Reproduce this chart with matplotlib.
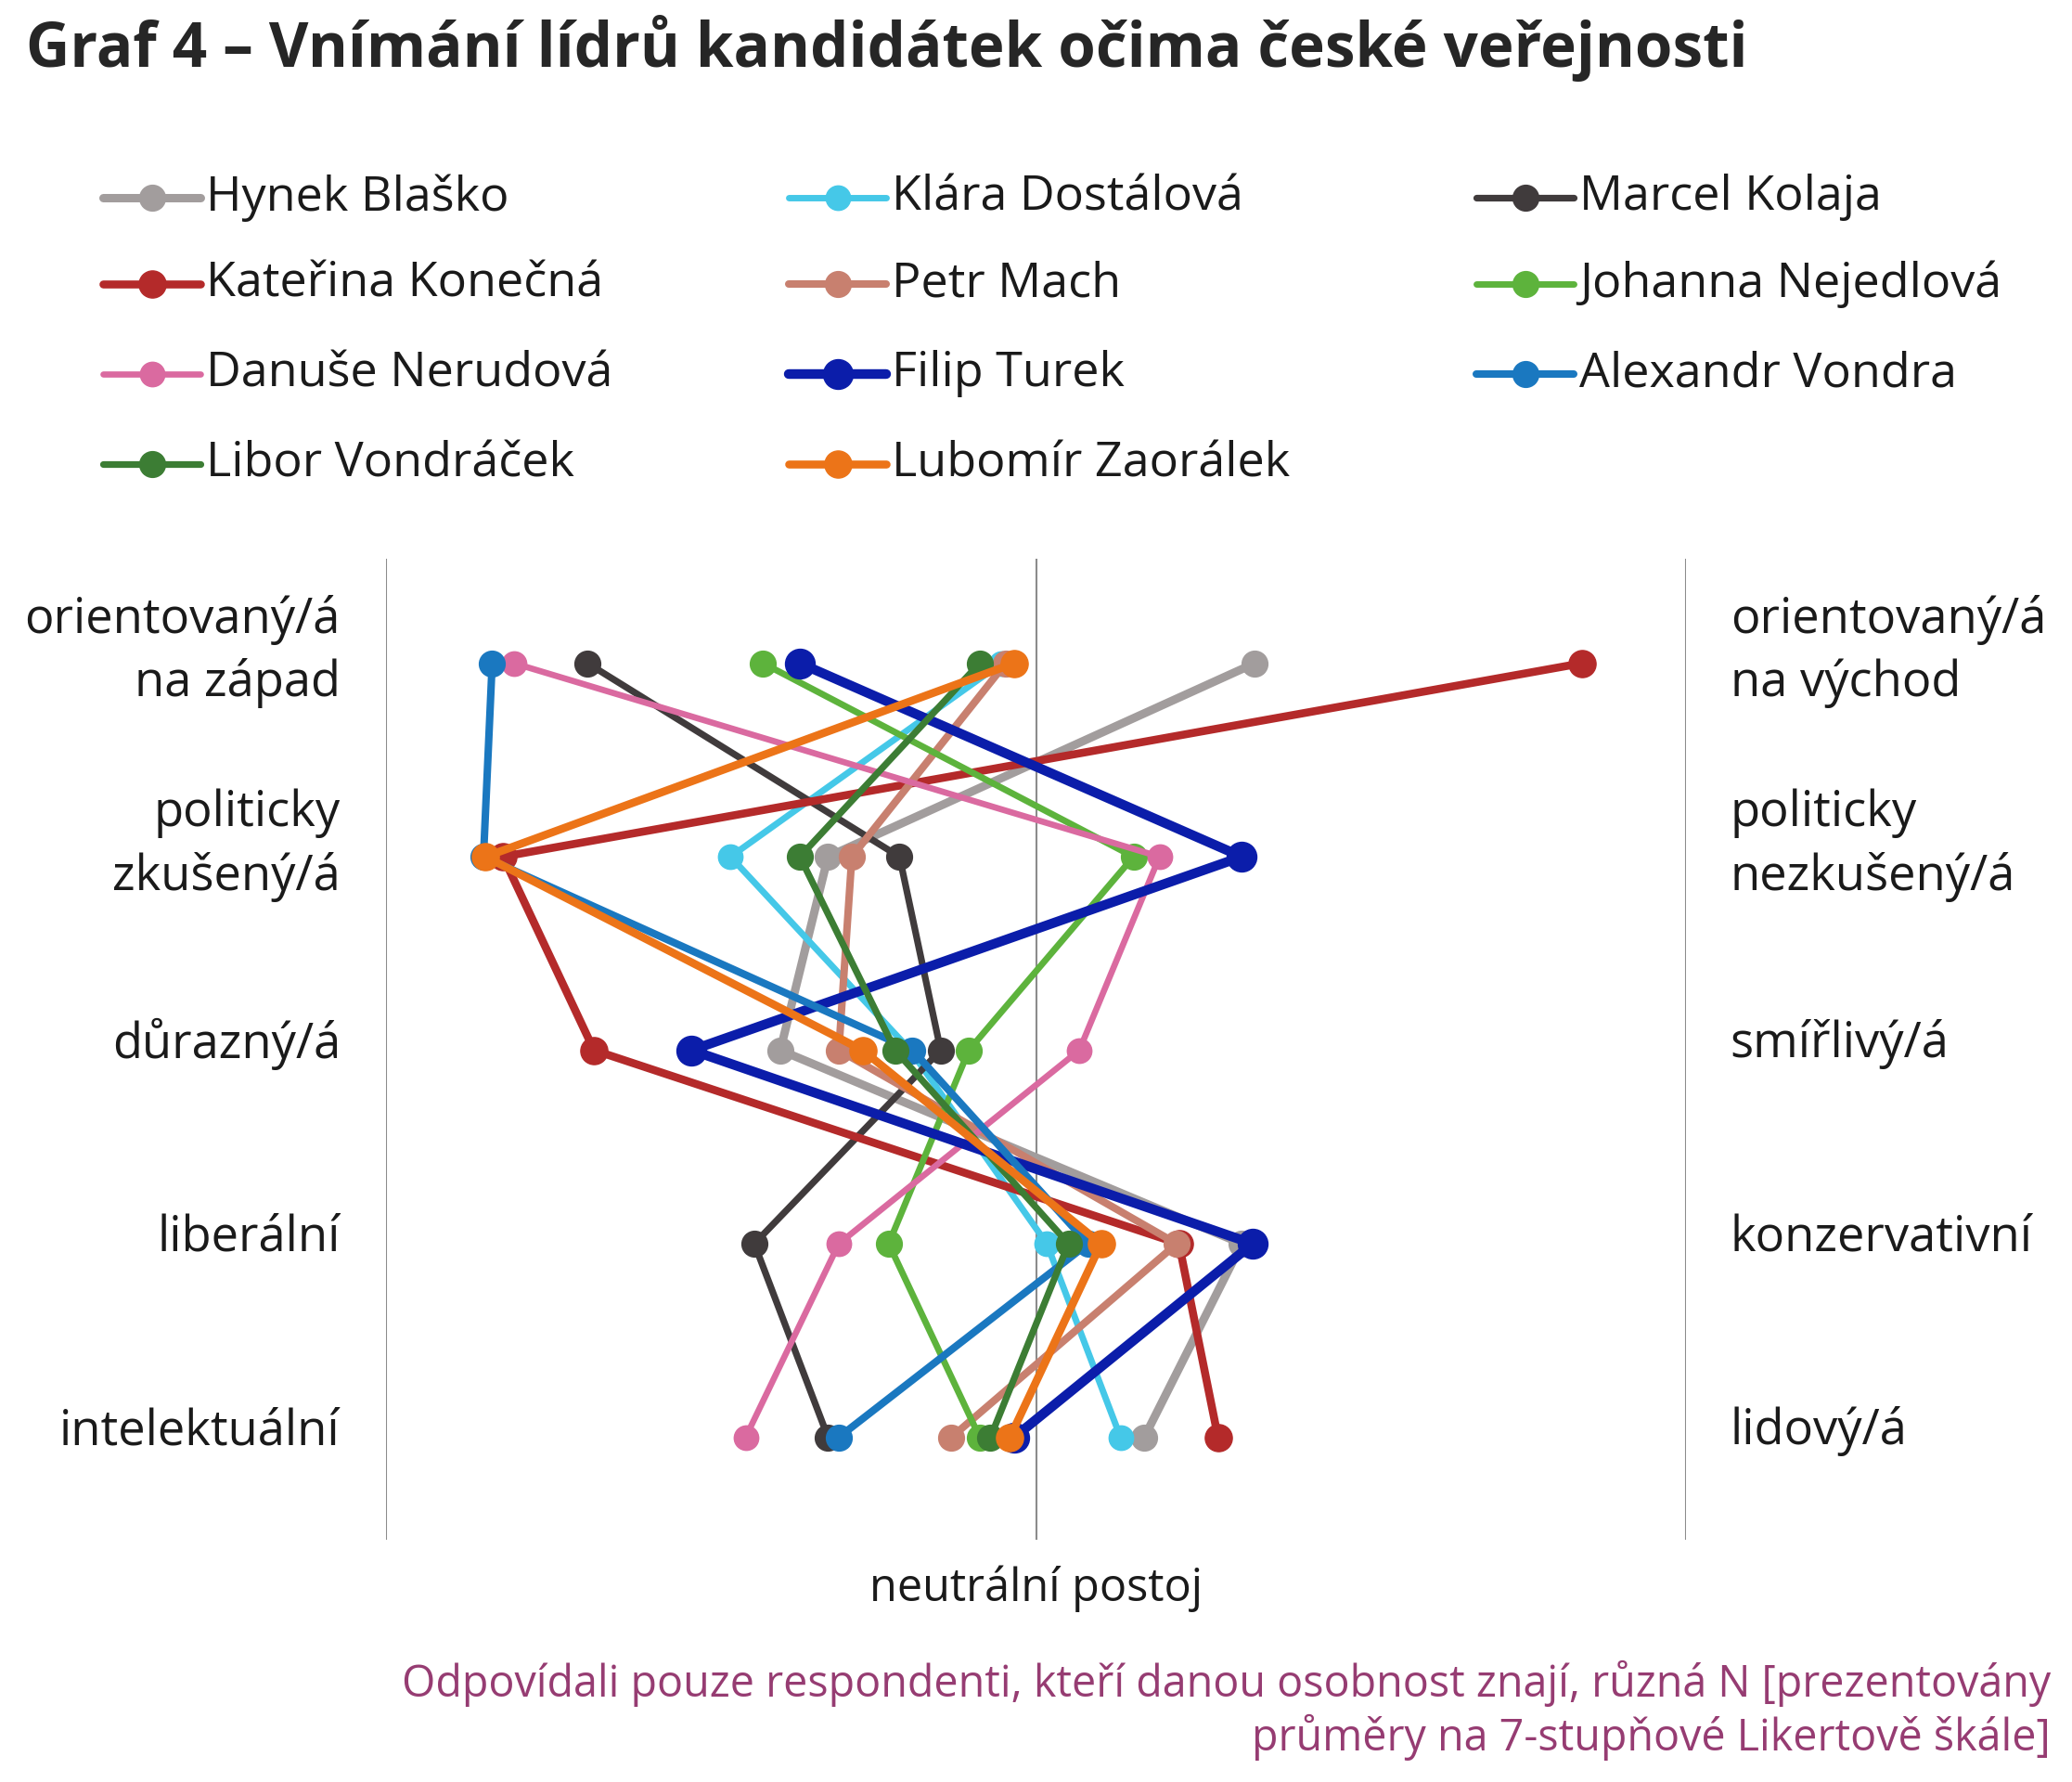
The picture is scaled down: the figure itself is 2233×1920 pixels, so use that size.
import matplotlib
matplotlib.use("Agg")
import matplotlib.pyplot as plt
from matplotlib.lines import Line2D
import matplotlib.transforms as mtransforms

plt.rcParams['font.family'] = ['Open Sans', 'DejaVu Sans']

# data (7-point Likert scale means)
names = ["Hynek Blaško", "Klára Dostálová", "Marcel Kolaja", "Kateřina Konečná",
         "Petr Mach", "Johanna Nejedlová", "Danuše Nerudová", "Filip Turek",
         "Alexandr Vondra", "Libor Vondráček", "Lubomír Zaorálek"]
left_labels = ["orientovaný/á\nna západ", "politicky\nzkušený/á", "důrazný/á",
               "liberální", "intelektuální"]
right_labels = ["orientovaný/á\nna východ", "politicky\nnezkušený/á", "smířlivý/á",
                "konzervativní", "lidový/á"]

blasko = [5.01, 3.04, 2.82, 4.95, 4.50]
dostalova = [3.84, 2.59, 3.42, 4.05, 4.39]
kolaja = [1.93, 3.37, 3.56, 2.70, 3.04]
konecna = [6.52, 1.54, 1.96, 4.66, 4.84]
mach = [3.86, 3.15, 3.09, 4.65, 3.61]
nejedlova = [2.74, 4.45, 3.69, 3.32, 3.74]
nerudova = [1.59, 4.57, 4.20, 3.09, 2.66]
turek = [2.91, 4.95, 2.41, 5.00, 3.90]
vondra = [1.49, 1.45, 3.43, 4.24, 3.09]
vondracek = [3.74, 2.91, 3.35, 4.15, 3.79]
zaoralek = [3.90, 1.46, 3.20, 4.30, 3.88]

series = [blasko, dostalova, kolaja, konecna, mach, nejedlova,
          nerudova, turek, vondra, vondracek, zaoralek]

colors = ["#A29D9D", "#45C8E8", "#403B3C", "#B42A2A", "#C8806F", "#5DB33C",
          "#DA6AA0", "#0B1DAA", "#1A78C0", "#3C7D34", "#EC7418"]
widths = [6.5, 5.0, 5.2, 6.2, 5.8, 5.0, 4.8, 7.5, 5.8, 5.2, 6.2]
msizes = [20, 19, 20, 21, 20, 20, 19, 23, 20, 20, 21]

fig = plt.figure(figsize=(22.33, 19.2), dpi=100)
ax = fig.add_axes([416 / 2233, 1 - 1659 / 1920, 1401 / 2233, 1057 / 1920])

rows = list(range(len(left_labels)))
for vals, name, c, lw, ms in zip(series, names, colors, widths, msizes):
    ax.plot(vals, rows, color=c, lw=lw, marker='o', ms=ms, label=name,
            solid_capstyle='round', zorder=3)

for xv in [1, 4, 7]:
    ax.axvline(xv, color='#8C8C8C', lw=1.5, zorder=1)

ax.set_xlim(1, 7)
ax.set_ylim(4.53, -0.54)
ax.axis('off')

tr = mtransforms.blended_transform_factory(ax.transAxes, ax.transData)
for r, (lt, rt) in enumerate(zip(left_labels, right_labels)):
    # labels sit slightly above the row, like in Excel
    off = 0.06 if "\n" in lt else 0.03
    ax.text(-0.035, r - off, lt, transform=tr, ha='right', va='center',
            multialignment='right', fontsize=37.8, color='#1a1a1a', linespacing=1.36)
    ax.text(1.034, r - off, rt, transform=tr, ha='left', va='center',
            multialignment='left', fontsize=37.8, color='#1a1a1a', linespacing=1.36)

tr2 = mtransforms.blended_transform_factory(ax.transData, ax.transAxes)
ax.text(4, -0.05, "neutrální postoj", transform=tr2, ha='center', va='center',
        fontsize=35, color='#1a1a1a')

# title
fig.text(28 / 2233, 1 - 52 / 1920, "Graf 4 – Vnímání lídrů kandidátek očima české veřejnosti",
         ha='left', va='center', fontsize=47.2, fontweight='bold', color='#262626')

# legend, 3 columns laid out like Excel
col_x = [111, 850, 1591]
row_y = [213, 306, 403, 500]
for i, (name, c, lw, ms) in enumerate(zip(names, colors, widths, msizes)):
    col = i % 3
    row = i // 3
    x0 = col_x[col] / 2233
    x1 = (col_x[col] + 105) / 2233
    y = 1 - row_y[row] / 1920
    fig.add_artist(Line2D([x0, x1], [y, y], transform=fig.transFigure,
                          color=c, lw=lw, solid_capstyle='round'))
    fig.add_artist(Line2D([(x0 + x1) / 2], [y], transform=fig.transFigure,
                          color=c, marker='o', ms=ms, lw=0))
    fig.text((col_x[col] + 111) / 2233, y, name, ha='left', va='center',
             fontsize=37.5, color='#1a1a1a')

fig.text(2210 / 2233, 1 - 1843 / 1920,
         "Odpovídali pouze respondenti, kteří danou osobnost znají, různá N [prezentovány\n"
         "průměry na 7-stupňové Likertově škále]",
         ha='right', va='center', multialignment='right', fontsize=33.6,
         color='#963C72', linespacing=1.2)

fig.savefig("out.png", dpi=100, facecolor='white')
